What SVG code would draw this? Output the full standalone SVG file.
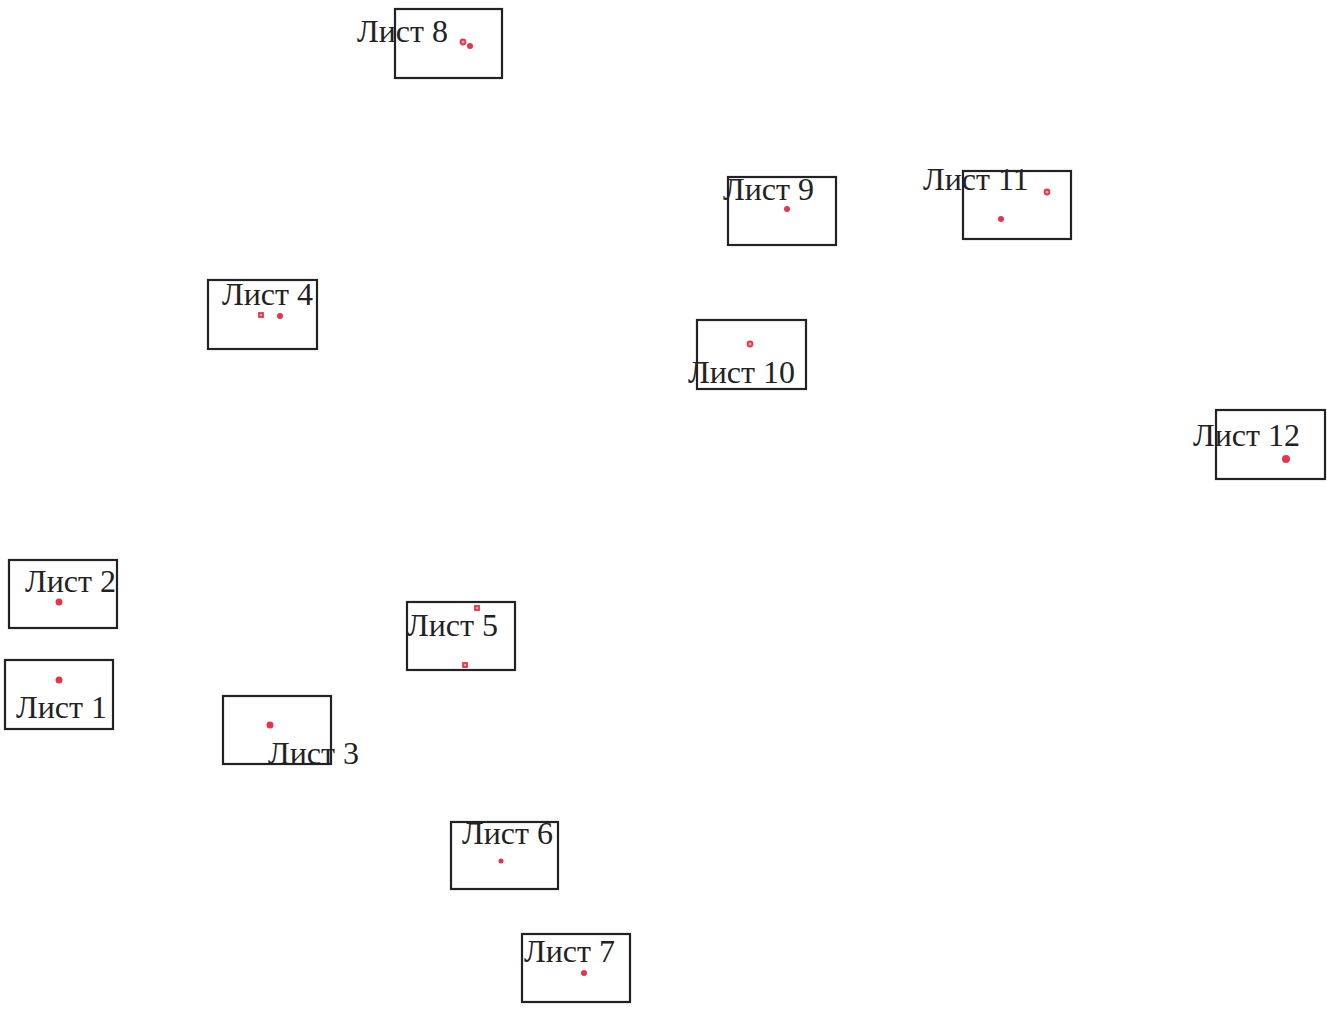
<svg xmlns="http://www.w3.org/2000/svg" width="1327" height="1012" viewBox="0 0 1327 1012">
<style>
.box{fill:none;stroke:#222;stroke-width:2.2}
.lbl{font-family:"Liberation Serif","Times New Roman",serif;font-size:32px;fill:#222}
.dot{fill:#e8344a}
.sq{fill:#f7a0aa;stroke:#e8344a;stroke-width:1.8}
</style>
<rect width="1327" height="1012" fill="#fff"/>
<g id="connectors"></g>
<g id="sheet8"><rect class="box" x="395" y="9" width="107" height="69"/><text class="lbl" x="357" y="42">Лист 8</text><circle class="sq" cx="463" cy="42" r="2.5"/><circle class="dot" cx="470" cy="46" r="3"/></g>
<g id="sheet9"><rect class="box" x="728" y="177" width="108" height="68"/><text class="lbl" x="723" y="200">Лист 9</text><circle class="dot" cx="787" cy="209" r="3"/></g>
<g id="sheet11"><rect class="box" x="963" y="171" width="108" height="68"/><text class="lbl" x="923" y="190">Лист 11</text><circle class="sq" cx="1047" cy="192" r="2.5"/><circle class="dot" cx="1001" cy="219" r="3"/></g>
<g id="sheet4"><rect class="box" x="208" y="280" width="109" height="69"/><text class="lbl" x="222" y="305">Лист 4</text><rect class="sq" x="259" y="313" width="4" height="4"/><circle class="dot" cx="280" cy="316" r="3"/></g>
<g id="sheet10"><rect class="box" x="697" y="320" width="109" height="69"/><text class="lbl" x="688" y="383">Лист 10</text><circle class="sq" cx="750" cy="344" r="2.5"/></g>
<g id="sheet12"><rect class="box" x="1216" y="410" width="109" height="69"/><text class="lbl" x="1193" y="446">Лист 12</text><circle class="dot" cx="1286" cy="459" r="4"/></g>
<g id="sheet2"><rect class="box" x="9" y="560" width="108" height="68"/><text class="lbl" x="25" y="592">Лист 2</text><circle class="dot" cx="59" cy="602" r="3.5"/></g>
<g id="sheet1"><rect class="box" x="5" y="660" width="108" height="69"/><text class="lbl" x="16" y="718">Лист 1</text><circle class="dot" cx="59" cy="680" r="3.5"/></g>
<g id="sheet3"><rect class="box" x="223" y="696" width="108" height="68"/><text class="lbl" x="268" y="764">Лист 3</text><circle class="dot" cx="270" cy="725" r="3.5"/></g>
<g id="sheet5"><rect class="box" x="407" y="602" width="108" height="68"/><text class="lbl" x="407" y="636">Лист 5</text><rect class="sq" x="475" y="606" width="4" height="4"/><rect class="sq" x="463" y="663" width="4" height="4"/></g>
<g id="sheet6"><rect class="box" x="451" y="822" width="107" height="67"/><text class="lbl" x="462" y="844">Лист 6</text><circle class="dot" cx="501" cy="861" r="2.5"/></g>
<g id="sheet7"><rect class="box" x="522" y="934" width="108" height="68"/><text class="lbl" x="524" y="962">Лист 7</text><circle class="dot" cx="584" cy="973" r="3"/></g>
</svg>
